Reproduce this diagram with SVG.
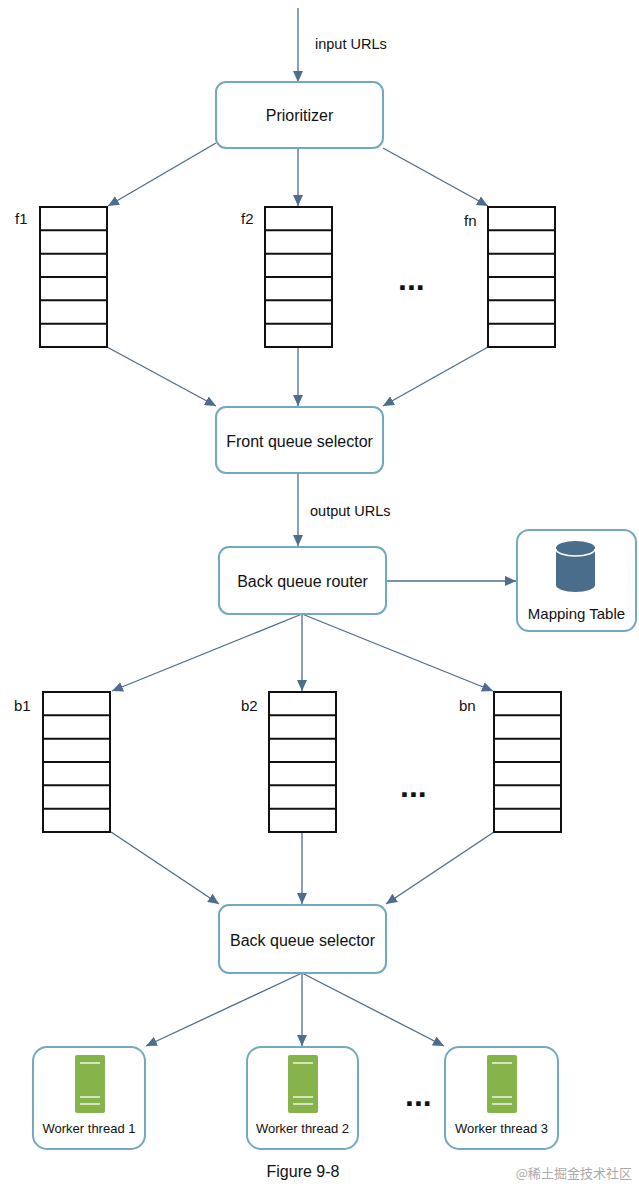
<svg xmlns="http://www.w3.org/2000/svg" width="639" height="1186" viewBox="0 0 639 1186">
<style>
.box{fill:#fff;stroke:#72a9c0;stroke-width:2}
.q{fill:#fff;stroke:#111;stroke-width:2}
.qc{stroke:#111;stroke-width:2}
.c{stroke:#4c6d8d;stroke-width:1.3;fill:none;marker-end:url(#ah)}
.t{font-family:"Liberation Sans",Arial,sans-serif;fill:#111}
.dots{font-family:"Liberation Sans",Arial,sans-serif;font-weight:bold;font-size:32px;fill:#111}
.ic{fill:#86b34a}
.il{stroke:#fff;stroke-width:1.3}
</style>
<defs>
<marker id="ah" markerUnits="userSpaceOnUse" markerWidth="12" markerHeight="10" refX="11" refY="5" orient="auto">
<path d="M0,0 L11,5 L0,10 z" fill="#4c6d8d"/>
</marker>
<g id="queue">
<rect class="q" x="0" y="0" width="67" height="140"/>
<line class="qc" x1="0" y1="23.3" x2="67" y2="23.3"/>
<line class="qc" x1="0" y1="46.7" x2="67" y2="46.7"/>
<line class="qc" x1="0" y1="70" x2="67" y2="70"/>
<line class="qc" x1="0" y1="93.3" x2="67" y2="93.3"/>
<line class="qc" x1="0" y1="116.7" x2="67" y2="116.7"/>
</g>
<g id="server">
<rect class="ic" x="0" y="0" width="30" height="58" rx="2"/>
<line class="il" x1="5" y1="8" x2="25" y2="8"/>
<line class="il" x1="5" y1="42" x2="25" y2="42"/>
<line class="il" x1="5" y1="49" x2="25" y2="49"/>
</g>
</defs>

<g id="connectors">
<line class="c" x1="298" y1="8" x2="298" y2="82"/>
<line class="c" x1="216" y1="143" x2="108" y2="206"/>
<line class="c" x1="298" y1="148" x2="298" y2="206"/>
<line class="c" x1="383" y1="148" x2="488" y2="206"/>
<line class="c" x1="107" y1="347" x2="216" y2="406"/>
<line class="c" x1="298" y1="347" x2="298" y2="406"/>
<line class="c" x1="488" y1="347" x2="383" y2="406"/>
<line class="c" x1="298" y1="473" x2="298" y2="546"/>
<line class="c" x1="386" y1="581" x2="516" y2="581"/>
<line class="c" x1="302" y1="614" x2="112" y2="691"/>
<line class="c" x1="302" y1="614" x2="302" y2="691"/>
<line class="c" x1="302" y1="614" x2="493" y2="691"/>
<line class="c" x1="111" y1="832" x2="219" y2="904"/>
<line class="c" x1="302" y1="832" x2="302" y2="904"/>
<line class="c" x1="494" y1="832" x2="386" y2="904"/>
<line class="c" x1="302" y1="973" x2="146" y2="1046"/>
<line class="c" x1="302" y1="973" x2="302" y2="1046"/>
<line class="c" x1="302" y1="973" x2="444" y2="1046"/>
</g>

<g id="labels">
<text class="t" x="315" y="49" font-size="14.5">input URLs</text>
<text class="t" x="310" y="516" font-size="14.5">output URLs</text>
</g>

<g id="prioritizer">
<rect class="box" x="216" y="82" width="167" height="66" rx="10"/>
<text class="t" x="299.5" y="121" font-size="16" text-anchor="middle">Prioritizer</text>
</g>

<g id="f1">
<use href="#queue" x="40" y="207"/>
<text class="t" x="15" y="224" font-size="15">f1</text>
</g>
<g id="f2">
<use href="#queue" x="265" y="207"/>
<text class="t" x="241" y="224" font-size="15">f2</text>
</g>
<g id="fn">
<use href="#queue" x="488" y="207"/>
<text class="t" x="464" y="226" font-size="15">fn</text>
</g>
<text class="dots" x="398" y="290">...</text>

<g id="front-queue-selector">
<rect class="box" x="216" y="407" width="167" height="66" rx="10"/>
<text class="t" x="299.5" y="447" font-size="16" text-anchor="middle">Front queue selector</text>
</g>

<g id="back-queue-router">
<rect class="box" x="219" y="547" width="167" height="67" rx="10"/>
<text class="t" x="302.5" y="587" font-size="16" text-anchor="middle">Back queue router</text>
</g>

<g id="mapping-table">
<rect class="box" x="517" y="530" width="119" height="101" rx="12"/>
<path d="M556,548 v37 a19.5,7 0 0 0 39,0 v-37 a19.5,7 0 0 0 -39,0 z" fill="#4a6d8c"/>
<path d="M556,549 a19.5,7 0 0 0 39,0" fill="none" stroke="#fff" stroke-width="1.5"/>
<text class="t" x="576.5" y="619" font-size="15" text-anchor="middle">Mapping Table</text>
</g>

<g id="b1">
<use href="#queue" x="43" y="692"/>
<text class="t" x="14" y="711" font-size="15">b1</text>
</g>
<g id="b2">
<use href="#queue" x="269" y="692"/>
<text class="t" x="241" y="711" font-size="15">b2</text>
</g>
<g id="bn">
<use href="#queue" x="494" y="692"/>
<text class="t" x="459" y="711" font-size="15">bn</text>
</g>
<text class="dots" x="400" y="797">...</text>

<g id="back-queue-selector">
<rect class="box" x="219" y="905" width="167" height="68" rx="10"/>
<text class="t" x="302.5" y="946" font-size="16" text-anchor="middle">Back queue selector</text>
</g>

<g id="worker1">
<rect class="box" x="33" y="1047" width="112" height="102" rx="14"/>
<use href="#server" x="75" y="1055"/>
<text class="t" x="89" y="1133" font-size="13" text-anchor="middle">Worker thread 1</text>
</g>
<g id="worker2">
<rect class="box" x="247" y="1047" width="111" height="102" rx="14"/>
<use href="#server" x="288" y="1055"/>
<text class="t" x="302.5" y="1133" font-size="13" text-anchor="middle">Worker thread 2</text>
</g>
<g id="worker3">
<rect class="box" x="445" y="1047" width="113" height="102" rx="14"/>
<use href="#server" x="487" y="1055"/>
<text class="t" x="501.5" y="1133" font-size="13" text-anchor="middle">Worker thread 3</text>
</g>
<text class="dots" x="405" y="1106">...</text>

<text class="t" x="303" y="1177" font-size="16" text-anchor="middle">Figure 9-8</text>
<text x="632" y="1178" font-size="13" text-anchor="end" fill="#aaa" font-family="'Noto Sans CJK SC',sans-serif">@稀土掘金技术社区</text>
</svg>
